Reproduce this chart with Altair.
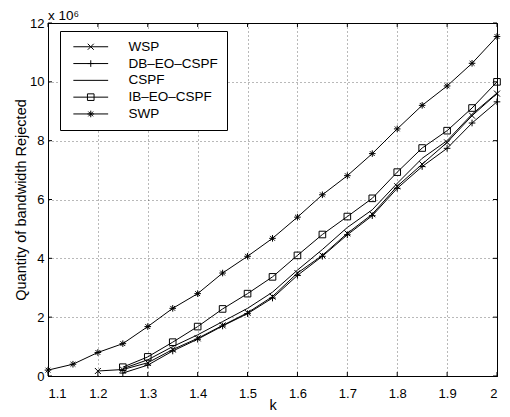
import altair as alt
import pandas as pd

# ---------------- data (values in units of 10^6) ----------------
k_values = [1.1, 1.15, 1.2, 1.25, 1.3, 1.35, 1.4, 1.45, 1.5, 1.55,
            1.6, 1.65, 1.7, 1.75, 1.8, 1.85, 1.9, 1.95, 2.0]

wsp  = [None, None, 0.17, 0.22, 0.45, 0.90, 1.28, 1.72, 2.15, 2.70,
        3.50, 4.10, 4.85, 5.50, 6.45, 7.20, 7.94, 8.85, 9.60]
db   = [None, None, None, 0.10, 0.37, 0.85, 1.25, 1.70, 2.12, 2.65,
        3.42, 4.07, 4.80, 5.45, 6.38, 7.12, 7.74, 8.60, 9.32]
cspf = [None, None, None, 0.25, 0.55, 1.00, 1.40, 1.85, 2.30, 2.85,
        3.60, 4.30, 5.05, 5.65, 6.55, 7.40, 8.00, 8.90, 9.62]
ib   = [None, None, None, 0.30, 0.65, 1.15, 1.68, 2.28, 2.80, 3.37,
        4.10, 4.81, 5.42, 6.04, 6.93, 7.75, 8.34, 9.11, 10.00]
swp  = [0.20, 0.40, 0.80, 1.10, 1.68, 2.30, 2.80, 3.50, 4.07, 4.68,
        5.40, 6.16, 6.81, 7.56, 8.40, 9.20, 9.86, 10.63, 11.54]

series_names = ["WSP", "DB\u2013EO\u2013CSPF", "CSPF", "IB\u2013EO\u2013CSPF", "SWP"]
series_values = [wsp, db, cspf, ib, swp]

x_ticks = [1.1, 1.2, 1.3, 1.4, 1.5, 1.6, 1.7, 1.8, 1.9, 2.0]
y_ticks = [0, 2, 4, 6, 8, 10, 12]

rows = []
for name, vals in zip(series_names, series_values):
    for kk, v in zip(k_values, vals):
        if v is not None:
            rows.append({"k": kk, "value": v, "series": name})
df = pd.DataFrame(rows)
legend_df = pd.DataFrame({"series": series_names})
xt_df = pd.DataFrame({"k": x_ticks})
yt_df = pd.DataFrame({"value": y_ticks})

# ---------------- styling ----------------
FONT = "Liberation Sans"
W, H = 449, 353

marker_paths = [
    "M-1,-1L1,1M-1,1L1,-1",                                            # x
    "M-1.1,0L1.1,0M0,-1.1L0,1.1",                                      # +
    "M0,0",                                                            # none
    "M-1.1,-1.1L1.1,-1.1L1.1,1.1L-1.1,1.1Z",                           # square
    "M-1.1,0L1.1,0M0,-1.1L0,1.1M-0.8,-0.8L0.8,0.8M-0.8,0.8L0.8,-0.8",  # asterisk
]
legend_paths = ["M-5.8,0L5.8,0" + p for p in marker_paths]

x_scale = alt.Scale(domain=[1.1, 2.0], nice=False, zero=False)
y_scale = alt.Scale(domain=[0, 12], nice=False, zero=True)

x_axis = alt.Axis(values=x_ticks, title="k",
                  labelExpr="datum.value == 2 ? '2' : format(datum.value, '.1f')")
y_axis = alt.Axis(values=y_ticks, title="Quantity of bandwidth Rejected")

base = alt.Chart(df)

lines = base.mark_line(color="black", strokeWidth=1).encode(
    x=alt.X("k:Q", scale=x_scale, axis=x_axis),
    y=alt.Y("value:Q", scale=y_scale, axis=y_axis),
    detail="series:N",
)

points = base.mark_point(filled=False, color="black", size=36, strokeWidth=1, opacity=1).encode(
    x=alt.X("k:Q", scale=x_scale, axis=x_axis),
    y=alt.Y("value:Q", scale=y_scale, axis=y_axis),
    shape=alt.Shape("series:N", scale=alt.Scale(domain=series_names, range=marker_paths),
                    legend=None),
)

legend_layer = alt.Chart(legend_df).mark_point(
    filled=False, color="black", size=36, strokeWidth=1, opacity=0
).encode(
    x=alt.value(0),
    y=alt.value(0),
    shape=alt.Shape("series:N",
                    scale=alt.Scale(domain=series_names, range=legend_paths),
                    legend=alt.Legend(
                        title=None, orient="none", legendX=12, legendY=8,
                        padding=9, strokeColor="black", fillColor="white",
                        cornerRadius=0, labelFont=FONT, labelFontSize=13.5,
                        labelColor="black", symbolSize=36, symbolStrokeWidth=1,
                        symbolStrokeColor="black", symbolFillColor="transparent",
                        symbolOpacity=1, symbolOffset=15, labelOffset=31,
                        rowPadding=1.8, labelLimit=300,
                    )),
)

xt_bottom = alt.Chart(xt_df).mark_rule(color="black", strokeWidth=1).encode(
    x=alt.X("k:Q", scale=x_scale, axis=x_axis), y=alt.value(H), y2=alt.value(H - 4))
xt_top = alt.Chart(xt_df).mark_rule(color="black", strokeWidth=1).encode(
    x=alt.X("k:Q", scale=x_scale, axis=x_axis), y=alt.value(0), y2=alt.value(4))
yt_left = alt.Chart(yt_df).mark_rule(color="black", strokeWidth=1).encode(
    y=alt.Y("value:Q", scale=y_scale, axis=y_axis), x=alt.value(0), x2=alt.value(4))
yt_right = alt.Chart(yt_df).mark_rule(color="black", strokeWidth=1).encode(
    y=alt.Y("value:Q", scale=y_scale, axis=y_axis), x=alt.value(W), x2=alt.value(W - 4))

chart = alt.layer(
    xt_bottom, xt_top, yt_left, yt_right, lines, points, legend_layer
).resolve_scale(shape="independent").properties(
    width=W, height=H,
    background="white",
    autosize=alt.AutoSizeParams(type="none"),
    padding={"left": 40, "top": 15, "right": 5, "bottom": 40},
    title=alt.Title("x 10\u2076", anchor="start", frame="group", fontSize=13.5, font=FONT,
                    fontWeight="normal", color="black", offset=-5),
).configure_view(
    stroke="black", strokeWidth=1
).configure_axis(
    domainColor="black", domainWidth=1, ticks=False,
    labelFont=FONT, labelFontSize=13, labelColor="black",
    titleFont=FONT, titleFontSize=14.5, titleColor="black", titleFontWeight="normal",
    grid=True, gridColor="black", gridOpacity=0.55, gridDash=[1, 3], gridWidth=1,
).configure_axisX(
    labelPadding=11, titlePadding=-2,
).configure_axisY(
    labelPadding=4, titlePadding=1,
)

chart.save("out.html", embed_options={"renderer": "svg", "actions": False})
